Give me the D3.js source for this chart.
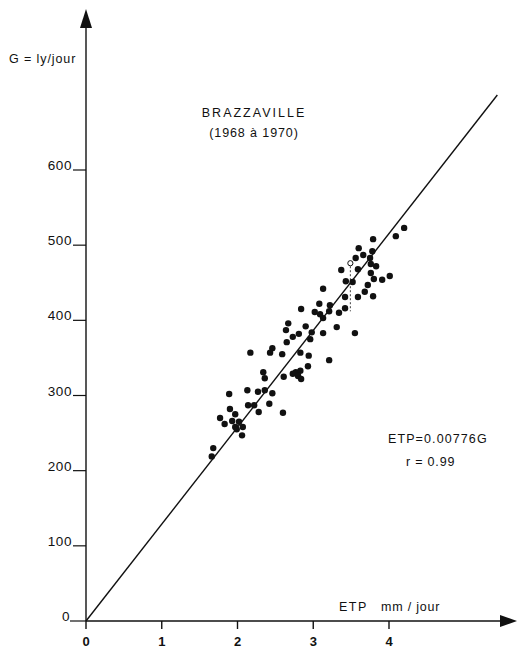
<!DOCTYPE html>
<html><head><meta charset="utf-8">
<script src="https://cdn.jsdelivr.net/npm/d3@7"></script>
<style>body{margin:0;background:#fff}svg{display:block}text{font-family:"Liberation Sans",Arial,sans-serif;fill:#111}</style>
</head><body><svg id="c" width="517" height="652"></svg>
<script>
// ETP (mm/jour) and G (ly/jour)
const etp = [4.20,4.09,3.79,3.60,3.78,3.56,3.66,3.75,3.76,3.83,3.59,3.37,3.76,4.01,3.91,3.80,3.72,3.52,3.43,3.68,3.79,3.59,3.42,3.42,3.13,3.08,3.22,2.84,3.02,3.09,3.13,3.34,3.21,3.31,3.13,3.55,2.98,2.90,2.81,2.73,2.96,2.67,2.64,2.65,2.46,2.43,2.59,2.17,2.83,2.94,2.93,2.34,2.36,2.61,2.73,2.77,2.83,2.80,2.84,2.13,2.27,2.36,2.46,1.89,3.21,2.14,2.22,2.42,2.28,1.90,1.97,1.77,1.83,1.93,2.02,1.97,2.07,1.99,2.06,1.68,1.66,2.60];
const gVal = [523,512,508,496,492,483,487,483,475,472,468,467,463,459,454,455,447,451,452,438,432,431,431,416,442,422,420,415,411,408,403,410,412,391,383,383,384,392,382,378,375,396,387,371,363,357,355,357,357,353,339,331,323,325,329,331,333,326,322,307,305,307,303,302,347,287,287,289,278,282,275,270,262,266,265,258,258,255,247,230,219,277];
const hollowPoint = {etp:3.49, g:476, gLow:412};
const xTicks = [0,1,2,3,4];
const yTicks = [0,100,200,300,400,500,600];
const slope = 0.00776; // ETP = 0.00776 G
const lineEndEtp = 5.43;

const svg = d3.select("#c");
const x = d3.scaleLinear().domain([0,4]).range([86,389]);
const y = d3.scaleLinear().domain([0,600]).range([621,170]);

// axes lines
svg.append("line").attr("x1",x(0)).attr("x2",x(0)).attr("y1",y(0)).attr("y2",24).attr("stroke","#111").attr("stroke-width",1.4);
svg.append("line").attr("x1",x(0)).attr("x2",505).attr("y1",y(0)).attr("y2",y(0)).attr("stroke","#111").attr("stroke-width",1.4);
svg.append("path").attr("d",`M${x(0)},9 L${x(0)-6},28 L${x(0)+6},28 Z`).attr("fill","#111");
svg.append("path").attr("d",`M517,${y(0)} L500,${y(0)-6} L500,${y(0)+6} Z`).attr("fill","#111");

// x ticks
const xt = svg.append("g");
xt.selectAll("line").data(xTicks).join("line")
  .attr("x1",d=>x(d)).attr("x2",d=>x(d)).attr("y1",y(0)).attr("y2",y(0)+8)
  .attr("stroke","#111").attr("stroke-width",1.4);
xt.selectAll("text").data(xTicks).join("text")
  .attr("x",d=>x(d)).attr("y",646).attr("text-anchor","middle")
  .attr("font-size",13).attr("font-weight","bold").text(d=>d);

// y ticks
const yt = svg.append("g");
yt.selectAll("line").data(yTicks).join("line")
  .attr("x1",d=>d===0?70:73).attr("x2",x(0)).attr("y1",d=>y(d)).attr("y2",d=>y(d))
  .attr("stroke","#111").attr("stroke-width",1.2);
yt.selectAll("text").data(yTicks).join("text")
  .attr("x",d=>d===0?70:72).attr("y",d=>y(d)).attr("text-anchor","end")
  .attr("font-size",13.5).attr("letter-spacing","0.6").text(d=>d);

// regression line
svg.append("line").attr("x1",x(0)).attr("y1",y(0))
  .attr("x2",x(lineEndEtp)).attr("y2",y(lineEndEtp/slope))
  .attr("stroke","#111").attr("stroke-width",1.4);

// dashed marker
svg.append("line").attr("x1",x(hollowPoint.etp)).attr("x2",x(hollowPoint.etp))
  .attr("y1",y(hollowPoint.g)+3).attr("y2",y(hollowPoint.gLow))
  .attr("stroke","#111").attr("stroke-width",0.8).attr("stroke-dasharray","2,2");
svg.append("circle").attr("cx",x(hollowPoint.etp)).attr("cy",y(hollowPoint.g)).attr("r",2.6)
  .attr("fill","none").attr("stroke","#111").attr("stroke-width",1);

// points
svg.append("g").selectAll("circle").data(etp.map((e,i)=>[e,gVal[i]])).join("circle")
  .attr("cx",d=>x(d[0])).attr("cy",d=>y(d[1])).attr("r",3.2).attr("fill","#111");

// labels
svg.append("text").attr("x",9).attr("y",63).attr("font-size",12.5).attr("letter-spacing","0.9").text("G = ly/jour");
svg.append("text").attr("x",254).attr("y",117).attr("text-anchor","middle").attr("font-size",12.5)
  .attr("letter-spacing","2").text("BRAZZAVILLE");
svg.append("text").attr("x",254).attr("y",137).attr("text-anchor","middle").attr("font-size",12.5)
  .attr("letter-spacing","0.9").text("(1968 à 1970)");
svg.append("text").attr("x",388).attr("y",443).attr("font-size",12.5).attr("letter-spacing","1.1").text("ETP=0.00776G");
svg.append("text").attr("x",406).attr("y",466).attr("font-size",12.5).attr("letter-spacing","0.8").text("r  = 0.99");
svg.append("text").attr("x",339).attr("y",611).attr("font-size",12.5).attr("letter-spacing","1.5").text("ETP");
svg.append("text").attr("x",381).attr("y",611).attr("font-size",12.5).attr("letter-spacing","0.8").text("mm / jour");
</script></body></html>
